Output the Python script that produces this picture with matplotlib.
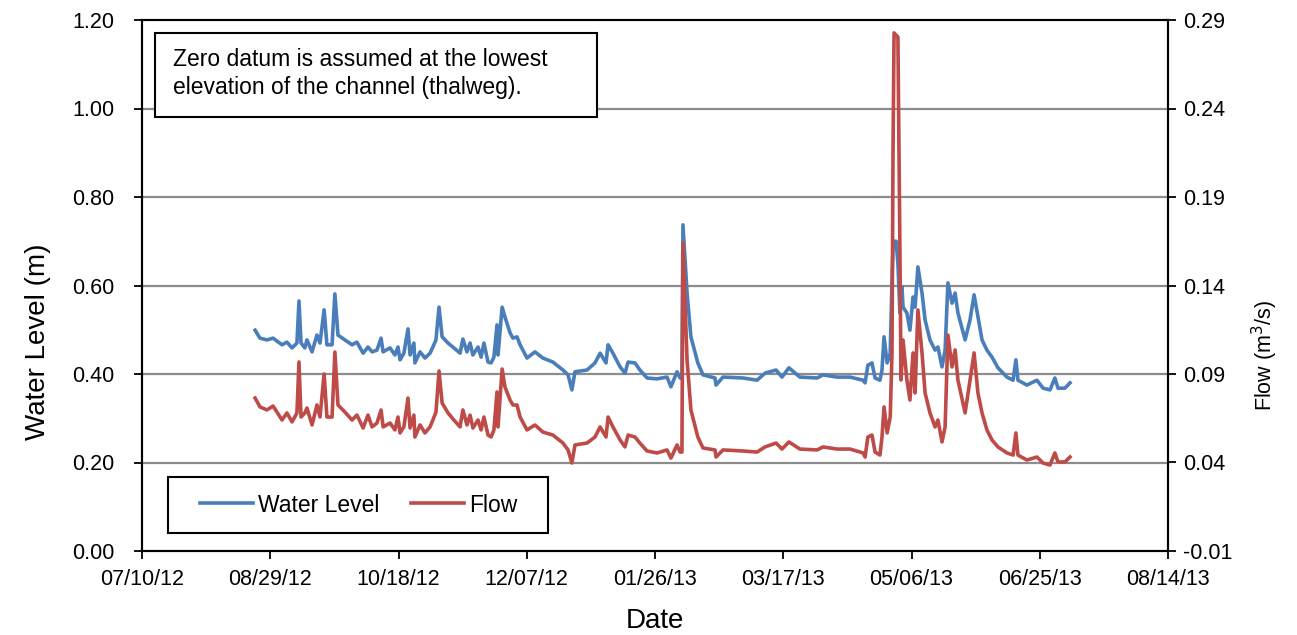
import matplotlib
matplotlib.use("Agg")
import matplotlib.pyplot as plt
import matplotlib.dates as mdates
from matplotlib.patches import Rectangle
import numpy as np
import pandas as pd

plt.rcParams["font.family"] = ["Liberation Sans", "DejaVu Sans"]

AXIS_START = pd.Timestamp("2012-07-10")

# days since 07/10/12 for each reading
record_day = [
    44.1, 46.0, 48.7, 51.1, 54.6, 56.5, 58.5, 60.4, 61.2, 62.0,
    63.5, 64.3, 66.3, 68.2, 69.4, 71.0, 72.1, 74.1, 75.2, 76.4,
    79.1, 81.9, 83.8, 86.2, 88.1, 89.7, 91.6, 93.2, 94.0, 96.7,
    98.6, 99.8, 100.6, 102.1, 103.7, 104.5, 106.0, 106.4, 108.4, 110.3,
    112.3, 113.4, 114.6, 115.8, 117.0, 119.3, 121.6, 124.0, 125.1, 126.7,
    127.9, 129.0, 131.0, 132.2, 133.3, 134.9, 136.1, 137.2, 138.4, 138.8,
    140.4, 141.5, 143.5, 144.6, 146.2, 147.4, 150.1, 153.2, 156.3, 160.2,
    164.1, 166.1, 167.6, 168.8, 173.5, 176.6, 178.6, 180.9, 181.7, 183.6,
    186.4, 188.3, 189.5, 192.2, 194.1, 196.9, 200.8, 204.7, 206.2, 208.6,
    209.8, 210.5, 210.9, 212.5, 214.0, 216.7, 218.7, 223.4, 223.8, 226.5,
    234.3, 239.8, 242.9, 247.2, 249.5, 252.2, 256.5, 263.2, 265.5, 271.0,
    276.0, 281.1, 281.9, 283.0, 284.6, 285.8, 287.7, 288.5, 289.3, 290.5,
    291.7, 292.4, 292.8, 293.2, 294.0, 294.7, 295.5, 295.9, 296.3, 296.7,
    298.2, 299.4, 300.6, 301.4, 302.5, 304.1, 305.3, 307.2, 309.2, 310.3,
    311.9, 313.1, 314.2, 315.8, 317.0, 318.1, 320.9, 322.8, 324.4, 325.9,
    327.5, 329.4, 331.4, 333.7, 337.2, 339.6, 340.7, 341.5, 345.0, 348.9,
    351.3, 354.0, 355.9, 357.1, 359.8, 361.8,
]

water_level = [
    0.499, 0.481, 0.477, 0.481, 0.466, 0.472, 0.459, 0.470, 0.565, 0.470,
    0.459, 0.477, 0.450, 0.488, 0.470, 0.545, 0.466, 0.466, 0.581, 0.488,
    0.477, 0.466, 0.472, 0.447, 0.461, 0.450, 0.454, 0.481, 0.450, 0.459,
    0.443, 0.461, 0.432, 0.447, 0.502, 0.443, 0.470, 0.425, 0.450, 0.436,
    0.447, 0.461, 0.477, 0.551, 0.484, 0.470, 0.459, 0.447, 0.479, 0.450,
    0.470, 0.443, 0.461, 0.438, 0.470, 0.427, 0.425, 0.438, 0.511, 0.443,
    0.551, 0.529, 0.493, 0.481, 0.484, 0.466, 0.436, 0.450, 0.436, 0.427,
    0.409, 0.398, 0.364, 0.405, 0.409, 0.425, 0.447, 0.425, 0.466, 0.447,
    0.416, 0.402, 0.427, 0.425, 0.409, 0.391, 0.389, 0.393, 0.371, 0.405,
    0.391, 0.391, 0.737, 0.583, 0.484, 0.425, 0.398, 0.391, 0.375, 0.393,
    0.391, 0.386, 0.402, 0.409, 0.393, 0.414, 0.393, 0.391, 0.398, 0.393,
    0.393, 0.386, 0.380, 0.420, 0.425, 0.391, 0.386, 0.409, 0.484, 0.425,
    0.447, 0.612, 0.687, 0.700, 0.700, 0.650, 0.538, 0.567, 0.597, 0.551,
    0.538, 0.499, 0.574, 0.551, 0.642, 0.583, 0.522, 0.477, 0.454, 0.461,
    0.416, 0.454, 0.606, 0.560, 0.583, 0.538, 0.477, 0.522, 0.579, 0.529,
    0.477, 0.454, 0.438, 0.414, 0.393, 0.386, 0.432, 0.386, 0.375, 0.386,
    0.368, 0.364, 0.391, 0.368, 0.368, 0.380,
]

flow = [
    0.0764, 0.0714, 0.0697, 0.0719, 0.0640, 0.0680, 0.0629, 0.0680, 0.0968, 0.0657,
    0.0680, 0.0708, 0.0612, 0.0725, 0.0657, 0.0900, 0.0657, 0.0657, 0.1024, 0.0725,
    0.0685, 0.0640, 0.0668, 0.0595, 0.0668, 0.0601, 0.0623, 0.0697, 0.0601, 0.0623,
    0.0584, 0.0657, 0.0567, 0.0601, 0.0764, 0.0595, 0.0668, 0.0544, 0.0612, 0.0567,
    0.0601, 0.0640, 0.0685, 0.0917, 0.0736, 0.0680, 0.0640, 0.0601, 0.0697, 0.0612,
    0.0668, 0.0595, 0.0640, 0.0584, 0.0657, 0.0555, 0.0544, 0.0584, 0.0798, 0.0601,
    0.0928, 0.0827, 0.0753, 0.0725, 0.0725, 0.0657, 0.0584, 0.0612, 0.0572, 0.0555,
    0.0510, 0.0471, 0.0397, 0.0499, 0.0510, 0.0544, 0.0601, 0.0544, 0.0657, 0.0601,
    0.0527, 0.0488, 0.0555, 0.0544, 0.0510, 0.0465, 0.0454, 0.0471, 0.0425, 0.0499,
    0.0459, 0.0459, 0.1640, 0.0979, 0.0697, 0.0544, 0.0482, 0.0471, 0.0431, 0.0471,
    0.0465, 0.0459, 0.0488, 0.0510, 0.0476, 0.0516, 0.0476, 0.0471, 0.0488, 0.0476,
    0.0476, 0.0454, 0.0431, 0.0544, 0.0555, 0.0459, 0.0442, 0.0544, 0.0714, 0.0567,
    0.0657, 0.1019, 0.2166, 0.2827, 0.2815, 0.2804, 0.1584, 0.0866, 0.0979, 0.1092,
    0.0866, 0.0753, 0.1019, 0.0793, 0.1262, 0.1019, 0.0793, 0.0680, 0.0601, 0.0640,
    0.0516, 0.0601, 0.1120, 0.0940, 0.1036, 0.0866, 0.0680, 0.0866, 0.1019, 0.0793,
    0.0680, 0.0584, 0.0527, 0.0488, 0.0454, 0.0442, 0.0567, 0.0442, 0.0414, 0.0431,
    0.0397, 0.0386, 0.0454, 0.0403, 0.0403, 0.0431,
]

NOTE = "Zero datum is assumed at the lowest\nelevation of the channel (thalweg)."

dates = AXIS_START + pd.to_timedelta(record_day, unit="D")

BLUE = "#4A7EBB"
RED = "#BE4B48"

fig = plt.figure(figsize=(12.97, 6.35), dpi=100)
ax = fig.add_axes([142 / 1297, 84 / 635, 1026 / 1297, 531 / 635])
ax2 = ax.twinx()

# Grid lines at the left axis ticks
for yv in [0.2, 0.4, 0.6, 0.8, 1.0]:
    ax.axhline(yv, color="#8c8c8c", linewidth=1.6, zorder=0)

l1, = ax.plot(dates, water_level, color=BLUE, linewidth=2.6,
              solid_joinstyle="round", label="Water Level")
l2, = ax2.plot(dates, flow, color=RED, linewidth=2.6,
               solid_joinstyle="round", label="Flow")

ax.set_ylim(0, 1.2)
ax.set_yticks(np.arange(0, 1.21, 0.2))
ax.yaxis.set_major_formatter(plt.FuncFormatter(lambda v, p: f"{v:.2f}"))
ax2.set_ylim(-0.01, 0.29)
ax2.set_yticks(np.arange(-0.01, 0.291, 0.05))
ax2.yaxis.set_major_formatter(plt.FuncFormatter(lambda v, p: f"{v:.2f}"))

xticks = [AXIS_START + pd.Timedelta(days=50 * i) for i in range(9)]
ax.set_xlim(xticks[0], xticks[-1])
ax.set_xticks(xticks)
ax.xaxis.set_major_formatter(mdates.DateFormatter("%m/%d/%y"))

for a in (ax, ax2):
    a.tick_params(direction="out", length=6, width=1.3, labelsize=15.5, colors="black")
    for s in a.spines.values():
        s.set_linewidth(1.5)
        s.set_color("black")
ax.tick_params(axis="x", pad=7)
ax.tick_params(axis="y", pad=14)
ax2.tick_params(axis="y", pad=5)

ax.set_xlabel("Date", fontsize=20, va="center")
ax.xaxis.set_label_coords(0.5, -0.132)
ax.set_ylabel("Water Level (m)", fontsize=20, va="center")
ax.yaxis.set_label_coords(-0.101, 0.394)
ax2.set_ylabel("Flow (m$^3$/s)", fontsize=15.5, va="center")
ax2.yaxis.set_label_coords(1.0945, 0.369)

# Note box
ax2.add_patch(Rectangle((0.0127, 0.8173), 0.4308, 0.1582, transform=ax2.transAxes,
                        facecolor="white", edgecolor="black", linewidth=1.5, zorder=5))
ax2.text(0.0302, 0.948, NOTE, transform=ax2.transAxes, fontsize=16.5,
         va="top", ha="left", linespacing=1.3, zorder=6)

# Legend with a separately drawn frame
ax2.add_patch(Rectangle((0.0253, 0.0339), 0.3704, 0.1055, transform=ax2.transAxes,
                        facecolor="white", edgecolor="black", linewidth=1.5, zorder=5))
leg = ax2.legend(handles=[l1, l2], loc="center left",
                 bbox_to_anchor=(0.0565, 0.0866), ncol=2, fontsize=16.5,
                 frameon=False, handlelength=2.3, handletextpad=0.22,
                 columnspacing=1.4, borderpad=0, borderaxespad=0)
leg.set_zorder(6)

fig.savefig("out.png", dpi=100)
